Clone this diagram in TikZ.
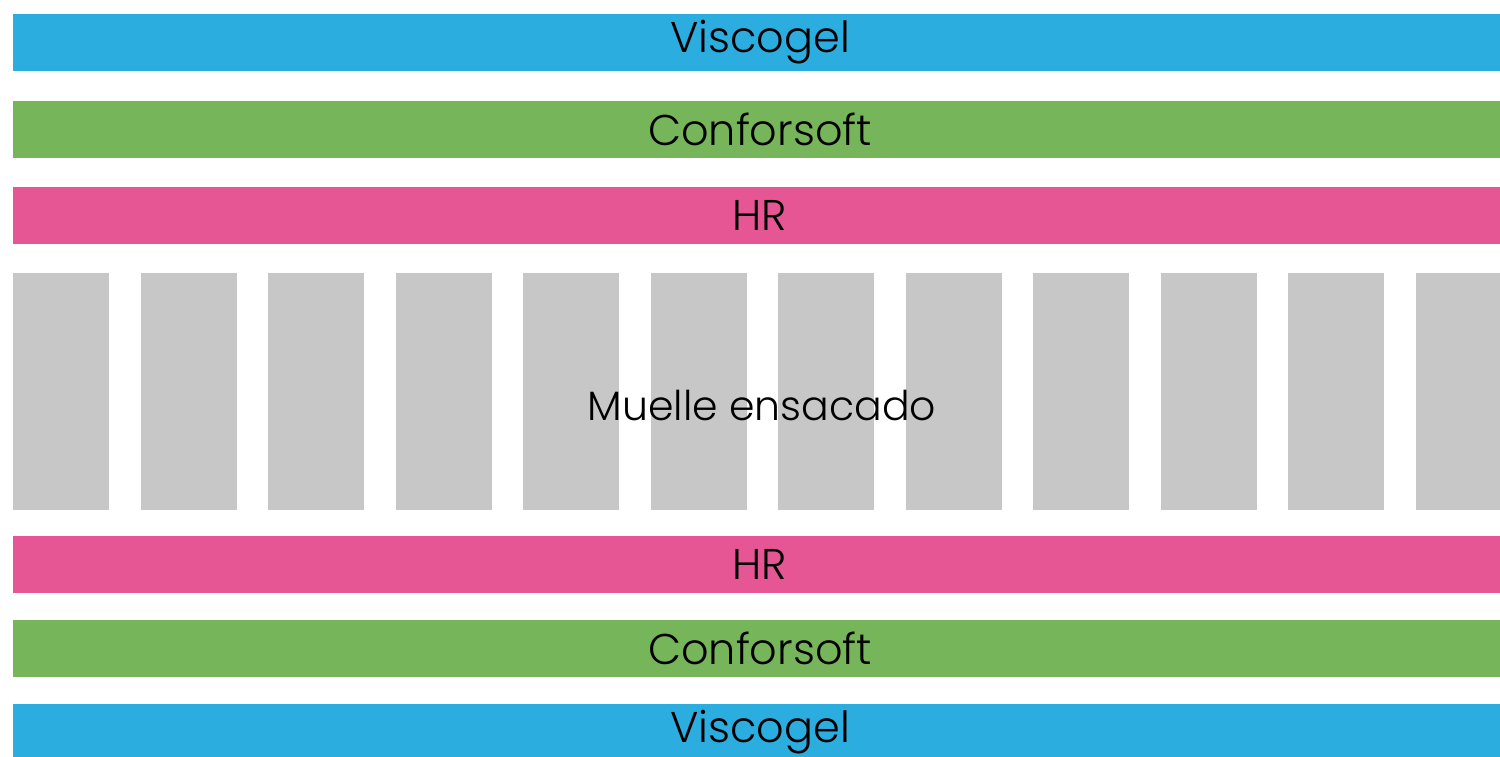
\documentclass[tikz,border=0pt]{standalone}
\usepackage{fontspec}
\setmainfont{Poppins}[UprightFont=* Light]
\definecolor{cblue}{HTML}{2CADE0}
\definecolor{cgreen}{HTML}{77B55A}
\definecolor{cpink}{HTML}{E75694}
\definecolor{cgrey}{HTML}{C7C7C7}
\tikzset{
  layer/.style={fill=#1, draw=none, minimum width=1494pt, minimum height=57pt, inner sep=0pt, font=\fontsize{43}{43}\selectfont, text=black},
  spring/.style={fill=cgrey, draw=none, minimum width=96pt, minimum height=237pt, inner sep=0pt},
  lbl/.style={font=\fontsize{41}{41}\selectfont, text=black, inner sep=0pt}
}
\begin{document}
\begin{tikzpicture}[x=1pt,y=-1pt]
\useasboundingbox (0,0) rectangle (1500,756);
\clip (0,0) rectangle (1500,756);
\node[layer=cblue] (v1) at (760,42.5) {Viscogel};
\node[layer=cgreen] (c1) at (760,129.5) {Conforsoft};
\node[layer=cpink] (h1) at (760,215.5) {HR};
\foreach \i in {0,...,11} {
  \node[spring] (s\i) at ({61+127.5*\i},391.5) {};
}
\node[lbl] (m) at (762,406) {Muelle ensacado};
\node[layer=cpink] (h2) at (760,564.5) {HR};
\node[layer=cgreen] (c2) at (760,648.5) {Conforsoft};
\node[layer=cblue] (v2) at (760,732.5) {Viscogel};
\end{tikzpicture}
\end{document}
